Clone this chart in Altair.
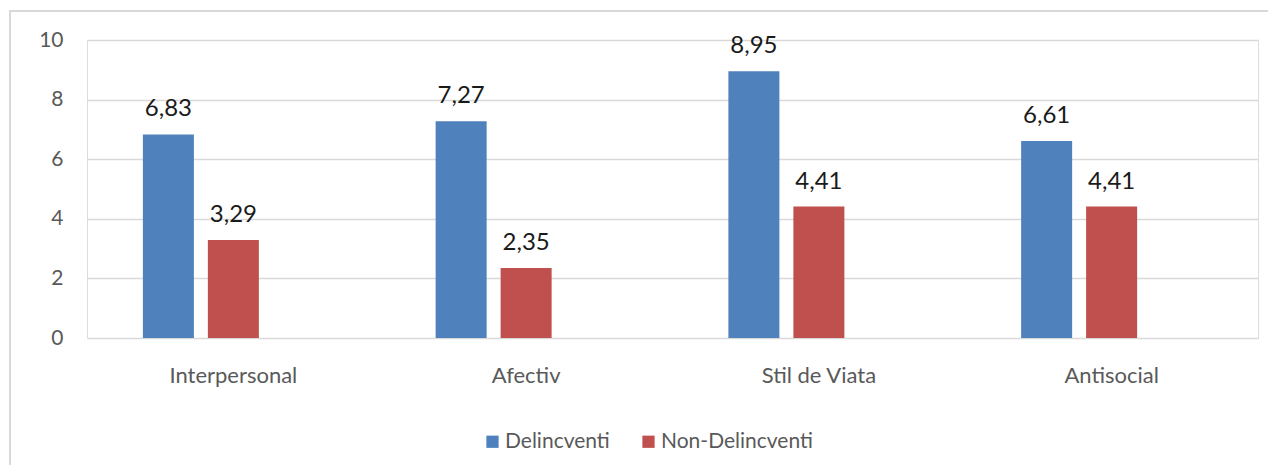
import altair as alt
import pandas as pd

categories = ["Interpersonal", "Afectiv", "Stil de Viata", "Antisocial"]
delincventi = [6.83, 7.27, 8.95, 6.61]
non_delincventi = [3.29, 2.35, 4.41, 4.41]
series = ["Delincventi", "Non-Delincventi"]
colors = ["#4F81BD", "#C0504D"]

rows = []
for c, d, n in zip(categories, delincventi, non_delincventi):
    rows.append({"cat": c, "series": series[0], "value": d, "label": f"{d:.2f}".replace(".", ",")})
    rows.append({"cat": c, "series": series[1], "value": n, "label": f"{n:.2f}".replace(".", ",")})
df = pd.DataFrame(rows)

FONT = "Lato"

x = alt.X("cat:N", sort=categories, title=None,
          scale=alt.Scale(paddingInner=0, paddingOuter=0),
          axis=alt.Axis(labelAngle=0, domain=False, ticks=False, labelFont=FONT,
                        labelFontSize=22, labelColor="#595959", labelPadding=27))
xo = alt.XOffset("series:N",
                 scale=alt.Scale(domain=series + ["_empty"], paddingInner=0.215, paddingOuter=0.86))
y = alt.Y("value:Q", title=None,
          scale=alt.Scale(domain=[0, 10]),
          axis=alt.Axis(values=[0, 2, 4, 6, 8, 10], domain=False, ticks=False,
                        gridColor="#d9d9d9", gridWidth=1.5, labelFont=FONT,
                        labelFontSize=21, labelColor="#595959", labelPadding=24))

bars = alt.Chart(df).mark_bar().encode(
    x=x, xOffset=xo, y=y,
    color=alt.Color("series:N", scale=alt.Scale(domain=series, range=colors),
                    legend=alt.Legend(title=None, orient="none", direction="horizontal",
                                      legendX=395, legendY=391,
                                      symbolType="square", symbolSize=150,
                                      symbolStrokeWidth=0, labelFont=FONT,
                                      labelFontSize=21, labelColor="#595959",
                                      labelOffset=2, columnPadding=28)),
)

labels = alt.Chart(df).mark_text(font=FONT, fontSize=24, color="#1a1a1a",
                                 baseline="alphabetic", dy=-18).encode(
    x=alt.X("cat:N", sort=categories), xOffset=xo, y="value:Q", text="label:N")

border = alt.Chart(pd.DataFrame({"b": [0]})).mark_rect(
    fill="transparent", stroke="#d9d9d9", strokeWidth=2).encode(
    x=alt.value(-77), x2=alt.value(1250), y=alt.value(-29), y2=alt.value(480))

chart = alt.layer(border, bars, labels).properties(
    width=1171, height=298,
    autosize=alt.AutoSizeParams(type="none"),
    padding={"left": 79, "top": 32, "right": 10, "bottom": 127},
).configure_view(stroke=None).configure(background="white")

chart.save("out.html", embed_options={"renderer": "svg", "actions": False})
